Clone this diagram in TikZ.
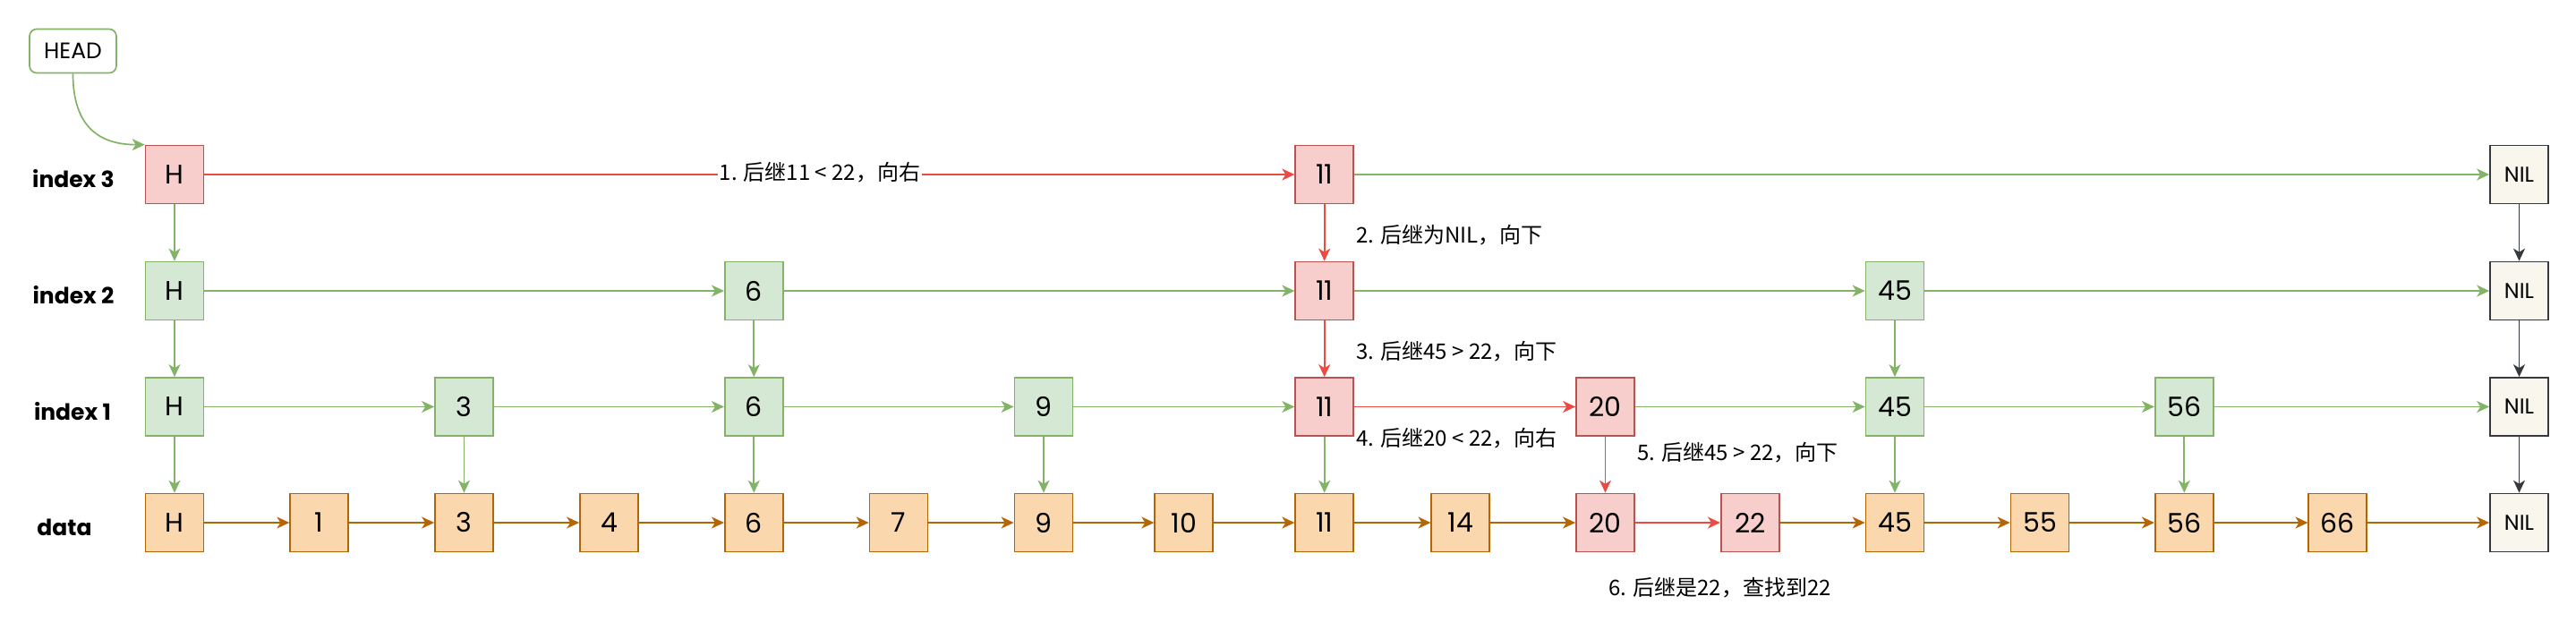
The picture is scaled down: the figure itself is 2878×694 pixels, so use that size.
\documentclass[tikz,border=0pt]{standalone}
\usepackage{fontspec}
\setmainfont{Poppins}
\newfontfamily\cjk{Noto Sans CJK SC}
\usetikzlibrary{arrows.meta}
\definecolor{rfill}{HTML}{F8CECC}\definecolor{rdraw}{HTML}{B85450}
\definecolor{gfill}{HTML}{D5E8D4}\definecolor{gdraw}{HTML}{82B366}
\definecolor{ofill}{HTML}{FAD7AC}\definecolor{odraw}{HTML}{B46504}
\definecolor{nfill}{HTML}{F9F7ED}\definecolor{ndraw}{HTML}{36393D}
\definecolor{redline}{HTML}{EA4B43}
\tikzset{
  box/.style={minimum width=65, minimum height=65, inner sep=0, line width=1.7, font=\fontsize{30}{36}\selectfont},
  rbox/.style={box, fill=rfill, draw=rdraw},
  gbox/.style={box, fill=gfill, draw=gdraw},
  obox/.style={box, fill=ofill, draw=odraw},
  nbox/.style={box, fill=nfill, draw=ndraw, font=\fontsize{24}{28}\selectfont},
  arr/.style={-{Stealth[length=14pt,width=13pt,inset=4pt]}, line width=1.7},
  ra/.style={arr, draw=redline},
  ga/.style={arr, draw=gdraw},
  oa/.style={arr, draw=odraw},
  na/.style={arr, draw=ndraw},
  lab/.style={font=\cjk\fontsize{24}{28}\selectfont, inner sep=0},
  rowlab/.style={font=\bfseries\fontsize{25}{30}\selectfont, inner sep=0},
}
\begin{document}
\begin{tikzpicture}[x=1pt,y=-1pt]
\useasboundingbox (0,0) rectangle (2878,694);
% row labels
\node[rowlab] (l3) at (82,200) {index 3};
\node[rowlab] (l2) at (82,330) {index 2};
\node[rowlab] (l1) at (81,459.5) {index 1};
\node[rowlab] (l0) at (72,589) {data};
% HEAD
\node[draw=gdraw, fill=white, rounded corners=8, line width=1.7, minimum width=97, minimum height=49, inner sep=0, font=\fontsize{25}{30}\selectfont] (head) at (81.5,57) {HEAD};
% data row
\foreach \n/\x/\s in {H/195/obox,1/356.7/obox,3/518.5/obox,4/680.5/obox,6/842.3/obox,7/1004/obox,9/1166/obox,10/1322.7/obox,11/1479.7/obox,14/1631.8/obox,20/1793.5/rbox,22/1955.3/rbox,45/2117/obox,55/2279/obox,56/2440.3/obox,66/2611.8/obox}
  \node[\s] (d\n) at (\x,584) {\n};
\node[nbox] (dN) at (2814.5,584) {NIL};
% index 1
\foreach \n/\x/\s in {H/195/gbox,3/518.5/gbox,6/842.3/gbox,9/1166/gbox,11/1479.7/rbox,20/1793.5/rbox,45/2117/gbox,56/2440.3/gbox}
  \node[\s] (a\n) at (\x,454.5) {\n};
\node[nbox] (aN) at (2814.5,454.5) {NIL};
% index 2
\foreach \n/\x/\s in {H/195/gbox,6/842.3/gbox,11/1479.7/rbox,45/2117/gbox}
  \node[\s] (b\n) at (\x,325) {\n};
\node[nbox] (bN) at (2814.5,325) {NIL};
% index 3
\foreach \n/\x/\s in {H/195/rbox,11/1479.7/rbox}
  \node[\s] (c\n) at (\x,195) {\n};
\node[nbox] (cN) at (2814.5,195) {NIL};
% HEAD arrow
\draw[ga] (head.south) .. controls +(0,60) and +(-50,0) .. (cH.north west);
% horizontal arrows
\foreach \a/\b/\s in {H/1/oa,1/3/oa,3/4/oa,4/6/oa,6/7/oa,7/9/oa,9/10/oa,10/11/oa,11/14/oa,14/20/oa,20/22/ra,22/45/oa,45/55/oa,55/56/oa,56/66/oa,66/N/oa}
  \draw[\s] (d\a) -- (d\b);
\foreach \a/\b/\s in {H/3/ga,3/6/ga,6/9/ga,9/11/ga,11/20/ra,20/45/ga,45/56/ga,56/N/ga}
  \draw[\s] (a\a) -- (a\b);
\foreach \a/\b/\s in {H/6/ga,6/11/ga,11/45/ga,45/N/ga}
  \draw[\s] (b\a) -- (b\b);
\draw[ra] (cH) -- (c11);
\draw[ga] (c11) -- (cN);
% vertical arrows
\draw[ga] (cH) -- (bH);
\draw[ra] (c11) -- (b11);
\draw[na] (cN) -- (bN);
\foreach \n/\s in {H/ga,6/ga,11/ra,45/ga,N/na}
  \draw[\s] (b\n) -- (a\n);
\foreach \n/\s in {H/ga,3/ga,6/ga,9/ga,11/ga,20/ra,45/ga,56/ga,N/na}
  \draw[\s] (a\n) -- (d\n);
% labels
\node[lab, fill=white, inner xsep=2] (t1) at (916,193) {1. 后继11 < 22，向右};
\node[lab, anchor=west] (t2) at (1515,263) {2. 后继为NIL，向下};
\node[lab, anchor=west] (t3) at (1515,393) {3. 后继45 > 22，向下};
\node[lab, anchor=west] (t4) at (1515,490) {4. 后继20 < 22，向右};
\node[lab, anchor=west] (t5) at (1829,506) {5. 后继45 > 22，向下};
\node[lab, anchor=west] (t6) at (1797,657) {6. 后继是22，查找到22};
\end{tikzpicture}
\end{document}
